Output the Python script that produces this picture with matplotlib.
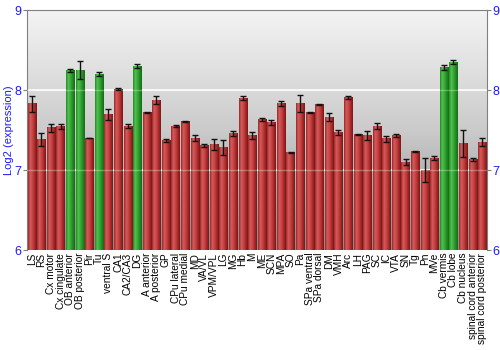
import numpy as np
import matplotlib.pyplot as plt
from matplotlib.colors import LinearSegmentedColormap

plt.rcParams['font.family'] = ['Liberation Sans', 'DejaVu Sans']

regions = ["LS", "RS", "Cx motor", "Cx cingulate", "OB anterior", "OB posterior", "Pir", "Tu",
           "ventral S", "CA1", "CA2/CA3", "DG", "A anterior", "A posterior", "GP", "CPu lateral",
           "CPu medial", "MD", "VA/VL", "VPM/VPL", "LG", "MG", "Hb", "M", "ME", "SCN", "MPA", "SO",
           "Pa", "SPa ventral", "SPa dorsal", "DM", "VMH", "Arc", "LH", "PAG", "SC", "IC", "VTA",
           "SN", "Tg", "Pn", "MVe", "Cb vermis", "Cb lobe", "Cb nucleus",
           "spinal cord anterior", "spinal cord posterior"]
values = [7.83, 7.38, 7.53, 7.54, 8.24, 8.25, 7.40, 8.20,
          7.69, 8.01, 7.55, 8.30, 7.72, 7.87, 7.37, 7.55,
          7.61, 7.40, 7.31, 7.32, 7.28, 7.46, 7.90, 7.43, 7.63, 7.59, 7.83, 7.22,
          7.83, 7.72, 7.82, 7.66, 7.47, 7.91, 7.44, 7.43, 7.55, 7.39, 7.43,
          7.10, 7.23, 7.00, 7.15, 8.28, 8.35, 7.33,
          7.13, 7.35]
errors = [0.10, 0.08, 0.05, 0.03, 0.02, 0.11, 0.005, 0.03,
          0.07, 0.01, 0.03, 0.03, 0.003, 0.05, 0.02, 0.01,
          0.005, 0.04, 0.02, 0.07, 0.09, 0.03, 0.03, 0.04, 0.02, 0.03, 0.03, 0.005,
          0.11, 0.01, 0.005, 0.05, 0.03, 0.02, 0.005, 0.06, 0.04, 0.04, 0.02,
          0.04, 0.01, 0.15, 0.02, 0.03, 0.03, 0.17,
          0.02, 0.05]
green_regions = ["OB anterior", "OB posterior", "Tu", "DG", "Cb vermis", "Cb lobe"]
y_ticks = [6, 7, 8, 9]

n = len(regions)
x = np.arange(n)
bar_w = 0.86
blue = '#1a1aff'

fig = plt.figure(figsize=(5, 3.5), dpi=100)
ax = fig.add_axes([0.054, 0.2857, 0.92, 0.6857])
ax.set_xlim(-0.5, n - 0.5)
ax.set_ylim(6, 9)

# background gradient
bg_cmap = LinearSegmentedColormap.from_list('bg', ['#f4f4f4', '#cbcbcb', '#8a8a8a'])
grad = np.linspace(0, 1, 256).reshape(-1, 1)
ax.imshow(grad, extent=(-0.5, n - 0.5, 6, 9), origin='upper', aspect='auto',
          cmap=bg_cmap, zorder=0)

for yv in [7, 8]:
    ax.axhline(yv, color='white', lw=1.3, alpha=0.85, zorder=1)

red_cmap = LinearSegmentedColormap.from_list('r', ['#9a2626', '#d45c5c', '#c84444', '#a82a2a', '#7a1616'])
green_cmap = LinearSegmentedColormap.from_list('g', ['#238a23', '#52c252', '#38aa38', '#228c22', '#186a18'])
hgrad = np.linspace(0, 1, 64).reshape(1, -1)

bars = ax.bar(x, np.array(values) - 6, bottom=6, width=bar_w, color='none', zorder=2)
for name, b in zip(regions, bars):
    cm = green_cmap if name in green_regions else red_cmap
    x0 = b.get_x()
    ax.imshow(hgrad, extent=(x0, x0 + b.get_width(), 6, 6 + b.get_height()),
              aspect='auto', cmap=cm, zorder=2)

for yv in [7, 8]:
    ax.axhline(yv, color='white', lw=1.0, alpha=0.3, zorder=3)

ax.errorbar(x, values, yerr=errors, fmt='none', ecolor='#111111', elinewidth=1.0,
            capsize=2.2, capthick=1.0, zorder=4)

ax.set_xlim(-0.5, n - 0.5)
ax.set_ylim(6, 9)
ax.set_xticks(x)
ax.set_xticklabels(regions, rotation=90, fontsize=7.3)
ax.tick_params(axis='x', length=0, pad=2)
ax.set_yticks(y_ticks)
ax.set_yticklabels([str(t) for t in y_ticks])
ax.tick_params(axis='y', colors='#808080', labelcolor=blue, labelsize=9, length=3,
               left=True, right=True, labelleft=True, labelright=True, pad=1)
ax.set_ylabel('Log2 (expression)', color=blue, fontsize=8, labelpad=0)

for s in ['left', 'right', 'top']:
    ax.spines[s].set_color('#808080')
ax.spines['bottom'].set_visible(False)

fig.savefig('out.png', dpi=100)
